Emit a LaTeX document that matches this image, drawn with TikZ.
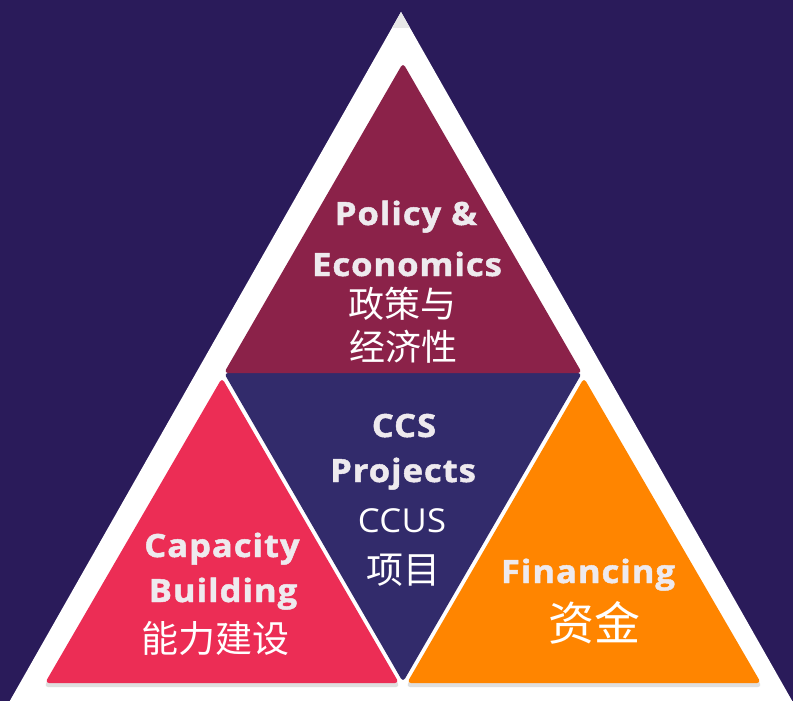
\documentclass[tikz,border=0pt]{standalone}
\usepackage{fontspec}
\usepackage{xcolor}
\usetikzlibrary{positioning}

\newfontfamily\zhfont{Noto Sans CJK SC}
\newfontfamily\enfont{Open Sans}[LetterSpace=3, FakeStretch=1.08, FakeBold=1.5]
\newfontfamily\ccusfont{Open Sans}[LetterSpace=1, FakeStretch=1.05]

\definecolor{bgnavy}{HTML}{2A1B5A}
\definecolor{policyred}{HTML}{8B2249}
\definecolor{capacitypink}{HTML}{EC2D55}
\definecolor{projectnavy}{HTML}{322B6B}
\definecolor{financeorange}{HTML}{FF8500}
\definecolor{enwhite}{HTML}{EEEAEE}

\begin{document}
\begin{tikzpicture}[x=1pt,y=-1pt]
\tikzstyle{entext} = [
	anchor=base,
	text=enwhite,
	inner sep=0pt,
	font=\enfont\bfseries\fontsize{32}{32}\selectfont
];
\tikzstyle{zhtext} = [
	text=white,
	inner sep=0pt
];
\tikzstyle{block} = [
	rounded corners=4pt
];

\useasboundingbox (0,0) rectangle (793,701);
\clip (0,0) rectangle (793,701);

%background and white frame
\fill[bgnavy] (0,0) rectangle (793,701);
\fill[white] (401,12) -- (803,720) -- (-1,720) -- cycle;
\fill[gray!18] (401,12) -- (410,28) -- (392,28) -- cycle;

%shadows under the lower blocks
\fill[block, gray!25] (222,382) -- (400,687) -- (44,687) -- cycle;
\fill[block, gray!25] (584,382) -- (762,687) -- (406,687) -- cycle;

%four blocks
\fill[block, projectnavy] (224,373) -- (582,373) -- (403,682) -- cycle;
\fill[block, policyred] (403,63) -- (582,373) -- (224,373) -- cycle;
\fill[block, capacitypink] (222,378) -- (399,683) -- (45,683) -- cycle;
\fill[block, financeorange] (584,378) -- (761,683) -- (407,683) -- cycle;

%top block
\node[entext](polA) at (406,225) {Policy \&};
\node[entext](polB) at (407,276) {Economics};
\node[zhtext, font=\zhfont\fontsize{36}{36}\selectfont](polC) at (402,304) {政策与};
\node[zhtext, font=\zhfont\fontsize{36}{36}\selectfont](polD) at (403,347) {经济性};

%middle block
\node[entext](ccsA) at (404,437) {CCS};
\node[entext](ccsB) at (403,482) {Projects};
\node[zhtext, anchor=base, font=\ccusfont\fontsize{33}{33}\selectfont](ccsC) at (402,532) {CCUS};
\node[zhtext, font=\zhfont\fontsize{37}{37}\selectfont](ccsD) at (403,570) {项目};

%left block
\node[entext](capA) at (222,557) {Capacity};
\node[entext](capB) at (223,602) {Building};
\node[zhtext, font=\zhfont\fontsize{37}{37}\selectfont](capC) at (215,638) {能力建设};

%right block
\node[entext](finA) at (588,583) {Financing};
\node[zhtext, font=\zhfont\fontsize{46}{46}\selectfont](finB) at (594,623) {资金};

\end{tikzpicture}
\end{document}
